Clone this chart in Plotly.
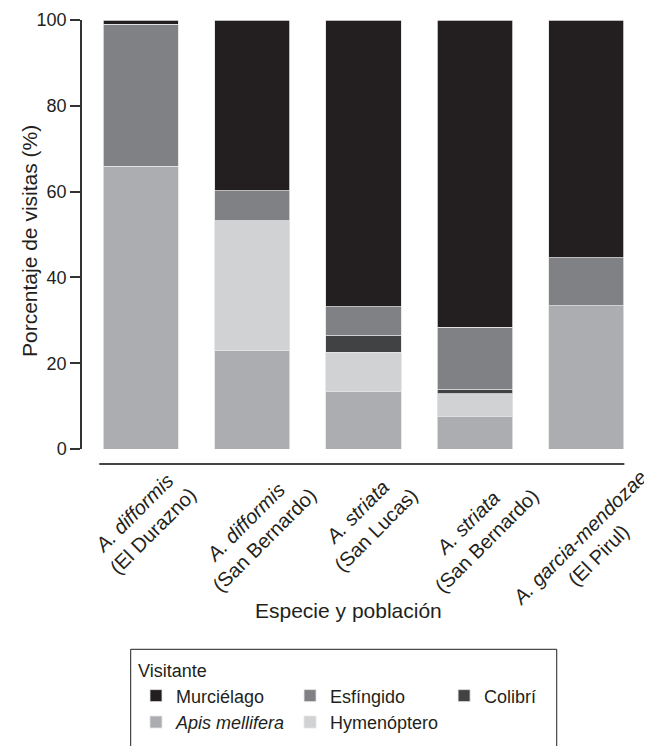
import plotly.graph_objects as go

species = ["A. difformis", "A. difformis", "A. striata", "A. striata", "A. garcia-mendozae"]
populations = ["El Durazno", "San Bernardo", "San Lucas", "San Bernardo", "El Pirul"]
categories = [f"{s} ({p})" for s, p in zip(species, populations)]

# percentage of visits per visitor (stack order bottom -> top)
apis = [65.9, 23.0, 13.4, 7.5, 33.4]
hymenoptero = [None, 30.2, 9.2, 5.4, None]
colibri = [None, None, 3.8, 0.9, None]
esfingido = [33.1, 7.0, 6.8, 14.6, 11.2]
murcielago = [1.0, 39.8, 66.8, 71.6, 55.4]

yticks = [0, 20, 40, 60, 80, 100]

series = [
    ("<i>Apis mellifera</i>", apis, "#acadb0", 4),
    ("Hymenóptero", hymenoptero, "#d1d2d4", 5),
    ("Colibrí", colibri, "#414244", 3),
    ("Esfíngido", esfingido, "#808184", 2),
    ("Murciélago", murcielago, "#231f20", 1),
]

FONT = "Liberation Sans, Arial, Helvetica, sans-serif"
TXT = "#231f20"

fig = go.Figure()
for name, vals, color, rank in series:
    fig.add_trace(go.Bar(
        x=categories, y=vals, name=name, legendrank=rank,
        marker=dict(color=color, line=dict(color="#e4e4e4", width=0.8)),
    ))

# rotated two-line category labels
for cat, s, p in zip(categories, species, populations):
    fig.add_annotation(
        x=cat, y=-0.0326, xref="x", yref="paper",
        text=f"<i>{s}</i><br>({p})", textangle=-45,
        xanchor="center", yanchor="top", align="center",
        showarrow=False, xshift=3,
        font=dict(family=FONT, size=20, color=TXT),
    )

# axis titles
fig.add_annotation(
    x=0.4734, y=-0.3776, xref="paper", yref="paper",
    text="Especie y población", showarrow=False,
    xanchor="center", yanchor="middle",
    font=dict(family=FONT, size=21, color=TXT),
)
fig.add_annotation(
    x=-0.0941, y=0.4848, xref="paper", yref="paper",
    text="Porcentaje de visitas (%)", showarrow=False, textangle=-90,
    xanchor="center", yanchor="middle",
    font=dict(family=FONT, size=21, color=TXT),
)

# detached x-axis line
fig.add_shape(type="line", xref="x", yref="paper",
              x0=-0.37, x1=4.34, y0=-0.035, y1=-0.035,
              line=dict(color="#444444", width=2))

# legend frame (runs off the bottom of the canvas)
fig.add_shape(type="rect", xref="paper", yref="paper",
              x0=0.0865, x1=0.8432, y0=-0.4669, y1=-0.80,
              line=dict(color="#231f20", width=1))

fig.update_layout(
    width=652, height=746,
    margin=dict(l=74, r=15, t=12, b=305, autoexpand=False),
    paper_bgcolor="white", plot_bgcolor="white",
    barmode="stack", bargap=0.327,
    font=dict(family=FONT, size=18, color=TXT),
    showlegend=True,
    legend=dict(
        orientation="h", x=0.0959, y=-0.4779, xanchor="left", yanchor="top",
        traceorder="normal",
        borderwidth=0, bgcolor="rgba(0,0,0,0)",
        font=dict(family=FONT, size=18, color=TXT),
        title=dict(text="Visitante", side="top", font=dict(family=FONT, size=18, color=TXT)),
    ),
    xaxis=dict(
        type="category", range=[-0.525, 4.525],
        showticklabels=False, ticks="", showline=False,
        showgrid=False, zeroline=False,
    ),
    yaxis=dict(
        range=[0, 100], tickvals=yticks, ticktext=[str(v) for v in yticks],
        showline=True, linecolor="#333333", linewidth=1.5,
        ticks="outside", ticklen=10, tickwidth=1.5, tickcolor="#333333",
        showgrid=False, zeroline=False,
        tickfont=dict(family=FONT, size=18, color=TXT),
    ),
)

fig.write_html("out.html")
